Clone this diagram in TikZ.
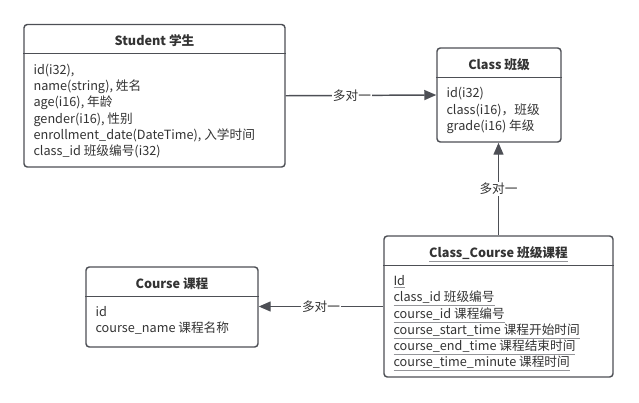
\documentclass[tikz,border=0pt]{standalone}
\usepackage{fontspec}
\setmainfont{Noto Sans CJK SC}
\usetikzlibrary{positioning,arrows.meta,calc}
\definecolor{boxline}{HTML}{4D4F55}
\definecolor{txt}{HTML}{333333}
\newcommand\ulgray[1]{{\color{boxline!60}\underline{\textcolor{txt}{#1}}}}

\begin{document}
\begin{tikzpicture}[x=0.75pt,y=-0.75pt,
  entity/.style={draw=boxline,line width=1.1pt,rounded corners=2.5pt,inner sep=0pt},
  title/.style={font=\bfseries\fontsize{9.5}{11}\selectfont,text=txt,anchor=base,inner sep=0pt},
  fields/.style={font=\fontsize{9.5}{12.2}\selectfont,text=txt,align=left,inner sep=0pt,anchor=north west},
  rel/.style={draw=boxline,line width=1.1pt,-{Triangle[length=9pt,width=7.5pt]}},
  card/.style={fill=white,font=\fontsize{9.5}{11}\selectfont,text=txt,inner sep=1pt}]
  \useasboundingbox (0,0) rectangle (639,403);
  % entities
  \node[entity,minimum width=261*0.75pt,minimum height=142.5*0.75pt] (student) at (154.5,95.75) {};
  \node[entity,minimum width=124*0.75pt,minimum height=94*0.75pt] (class) at (499,95) {};
  \node[entity,minimum width=229*0.75pt,minimum height=141*0.75pt] (cc) at (498.5,306.5) {};
  \node[entity,minimum width=172*0.75pt,minimum height=80*0.75pt] (course) at (172,307) {};
  \foreach \e in {student,class,cc,course}
    \draw[boxline,line width=1.1pt] ($(\e.north west)+(0,30)$) -- ($(\e.north east)+(0,30)$);
  % titles
  \node[title] (studentT) at ($(student.north)+(0,22)$) {Student 学生};
  \node[title] (classT) at ($(class.north)+(0,22)$) {Class 班级};
  \node[title] (ccT) at ($(cc.north)+(0,22)$) {\ulgray{Class\_Course 班级课程}};
  \node[title] (courseT) at ($(course.north)+(0,22)$) {Course 课程};
  % fields
  \node[fields] (studentF) at ($(student.north west)+(10,40)$) {id(i32),\\name(string), 姓名\\age(i16), 年龄\\gender(i16), 性别\\enrollment\_date(DateTime), 入学时间\\class\_id 班级编号(i32)};
  \node[fields] (classF) at ($(class.north west)+(10,40)$) {id(i32)\\class(i16)，班级\\grade(i16) 年级};
  \node[fields] (ccF) at ($(cc.north west)+(10,40)$) {\ulgray{Id}\\\ulgray{class\_id 班级编号}\\\ulgray{course\_id 课程编号}\\\ulgray{course\_start\_time 课程开始时间}\\\ulgray{course\_end\_time 课程结束时间}\\\ulgray{course\_time\_minute 课程时间}};
  \node[fields] (courseF) at ($(course.north west)+(10,40)$) {id\\course\_name 课程名称};
  % relations
  \draw[rel] (student.east) -- (class.west) node[card,pos=0.44] {多对一};
  \draw[rel] (cc.north) -- (cc.north |- class.south) node[card,midway] {多对一};
  \draw[rel] (cc.west) -- (cc.west -| course.east) node[card,midway] {多对一};
\end{tikzpicture}
\end{document}
